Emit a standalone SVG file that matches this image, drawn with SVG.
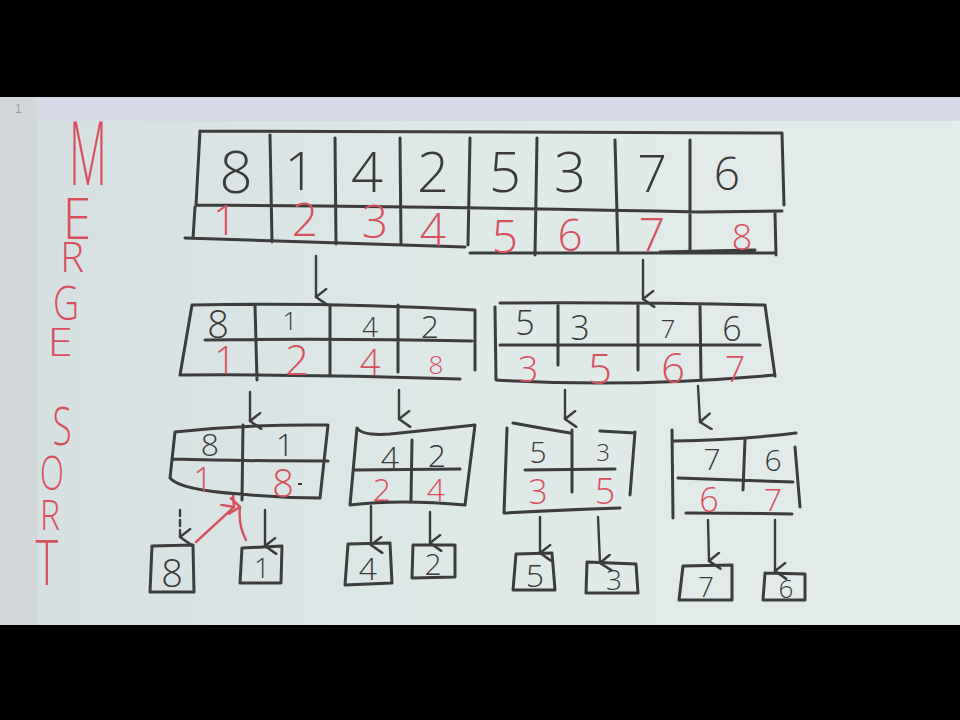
<svg xmlns="http://www.w3.org/2000/svg" width="960" height="720" viewBox="0 0 960 720">
<defs>
<marker id="ah" viewBox="0 0 16 16" refX="8" refY="14" markerWidth="18" markerHeight="18" markerUnits="userSpaceOnUse" orient="auto">
<path d="M1,5 L8,14 L15,4" fill="none" stroke="#3c3c3c" stroke-width="2.2" stroke-linecap="round" stroke-linejoin="round"/>
</marker>
<marker id="ahr" viewBox="0 0 16 16" refX="8" refY="14" markerWidth="18" markerHeight="18" markerUnits="userSpaceOnUse" orient="auto">
<path d="M1,5 L8,14 L15,5" fill="none" stroke="#d8505e" stroke-width="2.2" stroke-linecap="round" stroke-linejoin="round"/>
</marker>
<linearGradient id="board" x1="0" y1="0" x2="1" y2="0">
<stop offset="0" stop-color="#d6dfe0"/>
<stop offset="0.5" stop-color="#dfe9e8"/>
<stop offset="1" stop-color="#e3ecea"/>
</linearGradient>
</defs>
<style>
.ink{fill:none;stroke:#3c3c3c;stroke-width:3;stroke-linecap:round;stroke-linejoin:round}
.arr{fill:none;stroke:#3c3c3c;stroke-width:2.4;stroke-linecap:round;marker-end:url(#ah)}
.rarr{fill:none;stroke:#d8505e;stroke-width:2.4;stroke-linecap:round;marker-end:url(#ahr)}
.k{font-family:"Open Sans","DejaVu Sans",sans-serif;font-weight:300;fill:#3a3a3a;text-anchor:middle}
.r{font-family:"Open Sans","DejaVu Sans",sans-serif;font-weight:300;fill:#d8505e;text-anchor:middle}
.t{font-family:"Open Sans","DejaVu Sans",sans-serif;font-weight:300;fill:#d8505e;text-anchor:middle}
</style>
<rect x="0" y="0" width="960" height="720" fill="#000"/>
<rect x="0" y="97" width="960" height="528" fill="url(#board)"/>
<rect x="37" y="97" width="923" height="24" fill="#d6d9e8"/>
<rect x="0" y="97" width="37" height="528" fill="#d2d8da"/>
<text x="15" y="113" font-family="Liberation Sans" font-size="12" fill="#9aa0a6">1</text>

<g id="title">
<text class="t" transform="translate(88,185) scale(0.5,1)" font-size="88">M</text>
<text class="t" transform="translate(77,239) scale(0.9,1)" font-size="58">E</text>
<text class="t" transform="translate(72,272) scale(0.95,1)" font-size="42">R</text>
<text class="t" transform="translate(66,320) scale(0.75,1)" font-size="48">G</text>
<text class="t" transform="translate(60,356) scale(1.2,1)" font-size="38">E</text>
<text class="t" transform="translate(62,445) scale(0.65,1)" font-size="54">S</text>
<text class="t" transform="translate(52,490) scale(0.65,1)" font-size="48">O</text>
<text class="t" transform="translate(50,530) scale(0.8,1)" font-size="42">R</text>
<text class="t" transform="translate(47,585) scale(0.7,1)" font-size="62">T</text>
</g>

<g id="array-top">
<path class="ink" d="M200,131 L782,133 L784,205 M200,131 L196,205 M196,205 Q480,207 700,212 L782,211 M270,135 L272,242 M335,138 L336,244 M400,138 L401,245 M470,138 L468,245 M537,138 L535,255 M615,140 L618,252 M690,140 L690,250 M195,207 L193,238 M185,238 Q320,242 465,247 M470,253 L775,253 M775,212 L776,255 M660,252 L755,250"/>
<text class="k" x="236" y="193" font-size="58">8</text>
<text class="k" x="300" y="190" font-size="54">1</text>
<text class="k" x="367" y="192" font-size="56">4</text>
<text class="k" x="433" y="192" font-size="56">2</text>
<text class="k" x="505" y="192" font-size="56">5</text>
<text class="k" x="570" y="192" font-size="56">3</text>
<text class="k" x="652" y="192" font-size="52">7</text>
<text class="k" x="727" y="190" font-size="46">6</text>
<text class="r" x="225" y="235" font-size="42">1</text>
<text class="r" x="305" y="236" font-size="46">2</text>
<text class="r" x="375" y="238" font-size="46">3</text>
<text class="r" x="433" y="246" font-size="46">4</text>
<text class="r" x="505" y="253" font-size="46">5</text>
<text class="r" x="570" y="251" font-size="44">6</text>
<text class="r" x="652" y="251" font-size="46">7</text>
<text class="r" x="742" y="250" font-size="36">8</text>
</g>

<g id="connectors">
<path class="arr" d="M316,256 L316,297"/>
<path class="arr" d="M643,260 L643,299"/>
<path class="arr" d="M250,392 L250,421"/>
<path class="arr" d="M399,390 L399,419"/>
<path class="arr" d="M565,390 L565,419"/>
<path class="arr" d="M698,386 L700,422"/>
<path class="arr" d="M180,510 L180,537" stroke-dasharray="6 4"/>
<path class="arr" d="M265,510 L265,546"/>
<path class="arr" d="M371,506 L371,545"/>
<path class="arr" d="M430,512 L430,543"/>
<path class="arr" d="M540,517 L540,553"/>
<path class="arr" d="M598,517 L600,563"/>
<path class="arr" d="M708,520 L709,561"/>
<path class="arr" d="M775,520 L775,571"/>
<path class="rarr" d="M196,542 L234,507"/>
<path class="rarr" d="M246,540 Q238,525 240,507"/>
</g>

<g id="array-left">
<path class="ink" d="M192,305 Q330,302 475,310 L475,370 M192,305 L180,375 Q320,374 460,379 M205,340 Q330,338 472,341 M255,305 L257,380 M330,305 L330,376 M398,305 L398,372"/>
<text class="k" x="218" y="338" font-size="38">8</text>
<text class="k" x="290" y="330" font-size="26">1</text>
<text class="k" x="370" y="337" font-size="28">4</text>
<text class="k" x="430" y="338" font-size="32">2</text>
<text class="r" x="225" y="374" font-size="38">1</text>
<text class="r" x="297" y="375" font-size="42">2</text>
<text class="r" x="370" y="375" font-size="36">4</text>
<text class="r" x="436" y="374" font-size="26">8</text>
</g>

<g id="array-right">
<path class="ink" d="M500,303 Q630,302 765,305 L775,376 M495,307 L496,380 Q630,388 775,375 M500,345 L760,345 M558,305 L558,365 M638,305 L638,370 M700,305 L701,380"/>
<text class="k" x="525" y="335" font-size="34">5</text>
<text class="k" x="580" y="340" font-size="34">3</text>
<text class="k" x="668" y="338" font-size="26">7</text>
<text class="k" x="732" y="341" font-size="34">6</text>
<text class="r" x="528" y="382" font-size="36">3</text>
<text class="r" x="600" y="384" font-size="42">5</text>
<text class="r" x="673" y="383" font-size="42">6</text>
<text class="r" x="735" y="382" font-size="36">7</text>
</g>

<g id="pair-8-1">
<path class="ink" d="M175,432 Q250,424 328,425 L320,498 M175,432 L170,478 Q180,490 240,494 Q280,498 320,498 M172,459 Q240,461 328,461 M243,425 L242,500"/>
<text class="k" x="210" y="456" font-size="32">8</text>
<text class="k" x="285" y="456" font-size="32">1</text>
<text class="r" x="203" y="492" font-size="34">1</text>
<text class="r" x="283" y="497" font-size="38">8</text>
<path d="M298,484 L302,484" stroke="#3c3c3c" stroke-width="2"/>
</g>

<g id="pair-4-2">
<path class="ink" d="M357,428 Q362,436 390,434 Q430,430 475,425 L465,505 M357,428 L350,505 Q400,499 465,505 M355,470 L460,469 M412,440 L411,500"/>
<text class="k" x="390" y="469" font-size="32">4</text>
<text class="k" x="437" y="467" font-size="32">2</text>
<text class="r" x="382" y="501" font-size="32">2</text>
<text class="r" x="436" y="501" font-size="32">4</text>
</g>

<g id="pair-5-3">
<path class="ink" d="M513,423 Q540,428 570,433 M600,431 L635,433 M507,428 L504,513 Q560,510 620,508 M635,432 L630,495 M525,470 L615,469 M572,430 L572,492"/>
<text class="k" x="538" y="463" font-size="30">5</text>
<text class="k" x="603" y="461" font-size="24">3</text>
<text class="r" x="538" y="504" font-size="34">3</text>
<text class="r" x="605" y="504" font-size="36">5</text>
</g>

<g id="pair-7-6">
<path class="ink" d="M674,441 Q740,440 796,433 M672,430 L673,518 M795,447 L800,507 M678,478 L793,482 M686,513 Q740,513 792,514 M745,440 L743,490"/>
<text class="k" x="712" y="470" font-size="30">7</text>
<text class="k" x="773" y="471" font-size="30">6</text>
<text class="r" x="709" y="512" font-size="34">6</text>
<text class="r" x="773" y="511" font-size="32">7</text>
</g>

<g id="leaf-8"><path class="ink" d="M152,546 L193,545 L194,592 L150,592 L152,546"/><text class="k" x="172" y="587" font-size="38">8</text></g>
<g id="leaf-1"><path class="ink" d="M242,548 L282,546 L281,583 L240,583 L242,548"/><text class="k" x="262" y="578" font-size="28">1</text></g>
<g id="leaf-4"><path class="ink" d="M348,544 L390,543 L392,583 L345,585 L348,544"/><text class="k" x="368" y="580" font-size="32">4</text></g>
<g id="leaf-2"><path class="ink" d="M413,545 L455,545 L455,577 L412,578 L413,545"/><text class="k" x="433" y="575" font-size="30">2</text></g>
<g id="leaf-5"><path class="ink" d="M516,554 L552,553 L555,590 L513,590 L516,554"/><text class="k" x="535" y="587" font-size="32">5</text></g>
<g id="leaf-3"><path class="ink" d="M587,562 L636,564 L638,593 L586,593 L587,562"/><text class="k" x="614" y="590" font-size="28">3</text></g>
<g id="leaf-7"><path class="ink" d="M683,566 L732,565 L732,600 L679,600 L683,566"/><text class="k" x="706" y="597" font-size="28">7</text></g>
<g id="leaf-6"><path class="ink" d="M765,573 L805,574 L805,600 L763,600 L765,573"/><text class="k" x="786" y="598" font-size="26">6</text></g>
</svg>
